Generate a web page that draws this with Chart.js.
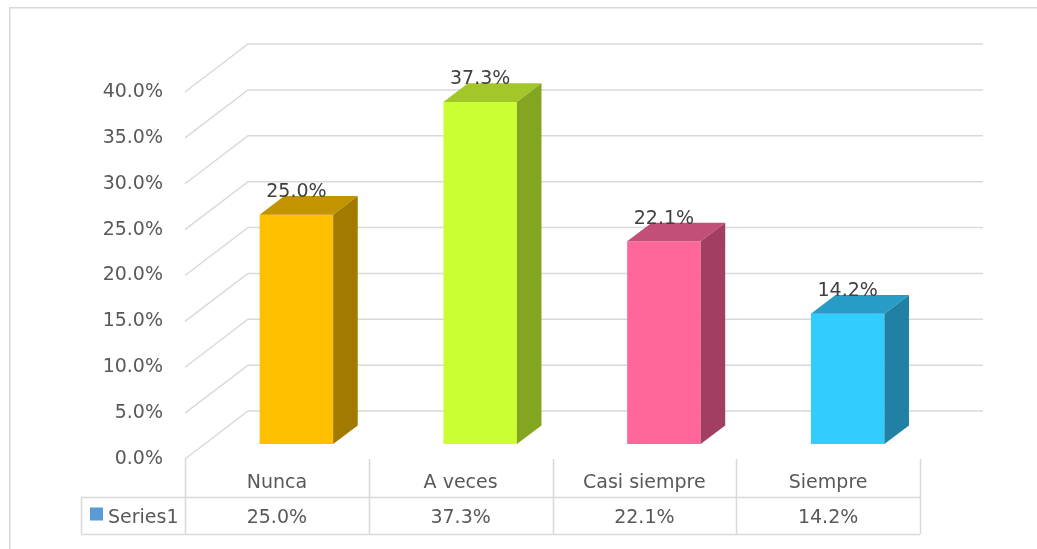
<!DOCTYPE html>
<html>
<head>
<meta charset="utf-8">
<script src="https://cdn.jsdelivr.net/npm/chart.js@4.4.1/dist/chart.umd.min.js"></script>
<style>
  html, body { margin: 0; padding: 0; background: #fff; }
  #wrap { position: relative; width: 1037px; height: 549px; }
</style>
</head>
<body>
<div id="wrap"><canvas id="chart" width="1037" height="549"></canvas></div>
<script>
const categories = ["Nunca", "A veces", "Casi siempre", "Siempre"];
const seriesName = "Series1";
const values = [0.25, 0.373, 0.221, 0.142];
const frontColors = ["#FFC000", "#CCFF33", "#FF6699", "#33CCFF"];
const topColors = ["#C49300", "#A2C728", "#C24F78", "#269CC6"];
const sideColors = ["#A37A00", "#83A520", "#A23E62", "#2081A5"];
const seriesColor = "#5B9BD5";
const yMax = 0.4;
const yStep = 0.05;

const FONT = "'DejaVu Sans', sans-serif";
const GRID = "#d9d9d9";
const AXIS_TEXT = "#595959";
const LABEL_TEXT = "#404040";

// depth of the 3d floor/wall and where the bars sit inside it
const depth = { x: 63, y: 48 };
const barFront = 0.31;
const barSize = 0.39;
const tableRow = 37.5;
const legendWidth = 104;

const fmt = (v) => (v * 100).toFixed(1) + "%";

const chart3d = {
  id: "chart3d",
  beforeDraw(chart) {
    const ctx = chart.ctx;
    ctx.save();
    ctx.strokeStyle = GRID;
    ctx.lineWidth = 1.5;
    ctx.strokeRect(9.75, 7.75, 1100, 600);
    ctx.restore();
  },
  beforeDatasetsDraw(chart) {
    const { ctx, chartArea: a, scales } = chart;
    const y = scales.y;
    ctx.save();
    ctx.strokeStyle = GRID;
    ctx.lineWidth = 1.5;
    for (const tick of y.ticks) {
      const py = y.getPixelForValue(tick.value);
      ctx.beginPath();
      ctx.moveTo(a.left, py);
      ctx.lineTo(a.left + depth.x, py - depth.y);
      ctx.lineTo(a.right + depth.x, py - depth.y);
      ctx.stroke();
    }
    ctx.restore();
    // bars sit part way back into the floor
    ctx.save();
    ctx.translate(depth.x * barFront, -depth.y * barFront);
  },
  afterDatasetsDraw(chart) {
    const ctx = chart.ctx;
    ctx.restore();
    const ox = depth.x * barFront;
    const oy = -depth.y * barFront;
    const dx = depth.x * barSize;
    const dy = depth.y * barSize;
    const meta = chart.getDatasetMeta(0);
    meta.data.forEach((bar, i) => {
      const p = bar.getProps(["x", "y", "base", "width"], true);
      const left = p.x - p.width / 2 + ox;
      const right = p.x + p.width / 2 + ox;
      const top = p.y + oy;
      const bottom = p.base + oy;
      ctx.save();
      ctx.fillStyle = topColors[i];
      ctx.beginPath();
      ctx.moveTo(left, top);
      ctx.lineTo(right, top);
      ctx.lineTo(right + dx, top - dy);
      ctx.lineTo(left + dx, top - dy);
      ctx.closePath();
      ctx.fill();
      ctx.fillStyle = sideColors[i];
      ctx.beginPath();
      ctx.moveTo(right, top);
      ctx.lineTo(right + dx, top - dy);
      ctx.lineTo(right + dx, bottom - dy);
      ctx.lineTo(right, bottom);
      ctx.closePath();
      ctx.fill();
      ctx.fillStyle = LABEL_TEXT;
      ctx.font = "19px " + FONT;
      ctx.textAlign = "center";
      ctx.textBaseline = "alphabetic";
      ctx.fillText(fmt(values[i]), p.x + ox, top - dy + 1);
      ctx.restore();
    });
  },
  afterDraw(chart) {
    const { ctx, chartArea: a } = chart;
    const n = categories.length;
    const cw = (a.right - a.left) / n;
    const row1 = a.bottom + tableRow;
    const row2 = row1 + tableRow;
    const tl = a.left - legendWidth;
    ctx.save();
    ctx.strokeStyle = GRID;
    ctx.lineWidth = 1.5;
    ctx.beginPath();
    for (let k = 0; k <= n; k++) {
      const px = Math.round(a.left + k * cw) + 0.5;
      ctx.moveTo(px, a.bottom);
      ctx.lineTo(px, row2);
    }
    ctx.moveTo(tl + 0.5, row1);
    ctx.lineTo(tl + 0.5, row2);
    ctx.moveTo(tl, Math.round(row1) + 0.5);
    ctx.lineTo(a.right, Math.round(row1) + 0.5);
    ctx.moveTo(tl, Math.round(row2) + 0.5);
    ctx.lineTo(a.right, Math.round(row2) + 0.5);
    ctx.stroke();

    ctx.font = "19px " + FONT;
    ctx.fillStyle = AXIS_TEXT;
    ctx.textAlign = "center";
    ctx.textBaseline = "alphabetic";
    values.forEach((v, i) => {
      ctx.fillText(fmt(v), a.left + (i + 0.5) * cw, row2 - 11);
    });
    ctx.fillStyle = seriesColor;
    ctx.fillRect(tl + 9, row1 + 11, 13, 13);
    ctx.fillStyle = AXIS_TEXT;
    ctx.textAlign = "left";
    ctx.fillText(seriesName, tl + 27, row2 - 11);
    ctx.restore();
  }
};

new Chart(document.getElementById("chart"), {
  type: "bar",
  data: {
    labels: categories,
    datasets: [{
      label: seriesName,
      data: values,
      backgroundColor: frontColors,
      borderWidth: 0,
      categoryPercentage: 1,
      barPercentage: 0.4,
      clip: false,
    }],
  },
  options: {
    responsive: false,
    animation: false,
    layout: { padding: { top: 92, right: 117, bottom: 50, left: 0 } },
    plugins: {
      legend: { display: false },
      tooltip: { enabled: false },
    },
    scales: {
      x: {
        grid: { display: false, drawTicks: false },
        border: { display: false },
        ticks: {
          color: AXIS_TEXT,
          font: { family: FONT, size: 19 },
          padding: 13,
          maxRotation: 0,
        },
        afterFit(scale) { scale.height = 40; },
      },
      y: {
        min: 0,
        max: yMax,
        grid: { display: false, drawTicks: false },
        border: { display: false },
        ticks: {
          stepSize: yStep,
          color: AXIS_TEXT,
          font: { family: FONT, size: 19 },
          padding: 22,
          callback: (v) => fmt(v),
        },
        afterFit(scale) { scale.width = 185; },
      },
    },
  },
  plugins: [chart3d],
});
</script>
</body>
</html>
